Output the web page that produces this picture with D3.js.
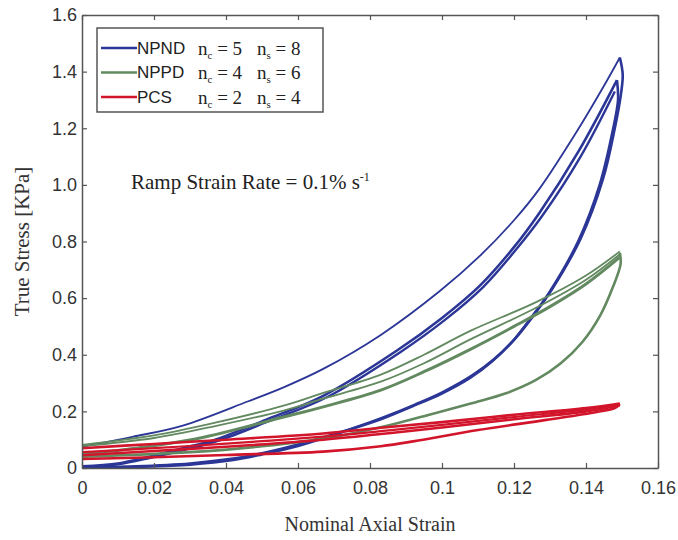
<!DOCTYPE html>
<html>
<head>
<meta charset="utf-8">
<script src="https://cdn.jsdelivr.net/npm/d3@7"></script>
<style>
  body { margin: 0; background: #fff; }
  svg { display: block; }
</style>
</head>
<body>
<script>
const width = 678, height = 540;
const margin = { top: 15, right: 20, bottom: 72, left: 82 };

// [strain, stress] points, one array per branch
const npndLoad1 = [[0, 0.075], [0.014, 0.11], [0.028, 0.15], [0.046, 0.235], [0.056, 0.285], [0.067, 0.35],
  [0.083, 0.47], [0.0994, 0.625], [0.1106, 0.75], [0.12, 0.875], [0.127, 0.985], [0.138, 1.2], [0.145, 1.35], [0.1494, 1.45]];
const npndUnload1 = [[0.1494, 1.45], [0.1502, 1.39], [0.1497, 1.32], [0.148, 1.2], [0.1447, 1.02], [0.1385, 0.81],
  [0.1305, 0.63], [0.1258, 0.545], [0.1205, 0.46], [0.1145, 0.385], [0.1085, 0.328], [0.1005, 0.27], [0.0925, 0.224],
  [0.0835, 0.178], [0.072, 0.127], [0.06, 0.083], [0.05, 0.052], [0.042, 0.033], [0.03, 0.016], [0.015, 0.006], [0, 0.002]];
const npndLoad2 = [[0, 0.006], [0.01, 0.016], [0.0186, 0.04], [0.028, 0.07], [0.037, 0.1], [0.051, 0.17],
  [0.067, 0.255], [0.0875, 0.415], [0.1, 0.53], [0.1106, 0.645], [0.12, 0.78], [0.127, 0.9], [0.138, 1.12], [0.1486, 1.37]];
const npndUnload2 = [[0.1486, 1.37], [0.1489, 1.3], [0.1474, 1.19], [0.1438, 1.0], [0.1378, 0.8], [0.1298, 0.62],
  [0.125, 0.535], [0.1198, 0.45], [0.1138, 0.375], [0.1078, 0.318], [0.0998, 0.262], [0.0918, 0.218],
  [0.083, 0.172], [0.071, 0.122], [0.06, 0.078], [0.05, 0.048], [0.042, 0.028], [0.03, 0.012], [0.015, 0.004], [0, 0]];
const npndLoad3 = [[0, 0.004], [0.01, 0.013], [0.019, 0.036], [0.029, 0.066], [0.038, 0.097], [0.052, 0.166],
  [0.068, 0.25], [0.0885, 0.41], [0.101, 0.525], [0.1115, 0.64], [0.1208, 0.775], [0.1278, 0.89], [0.1385, 1.1], [0.148, 1.33]];

const nppdLoad1 = [[0, 0.082], [0.02, 0.115], [0.037, 0.16], [0.056, 0.22], [0.067, 0.265], [0.083, 0.33],
  [0.095, 0.4], [0.108, 0.485], [0.126, 0.585], [0.14, 0.68], [0.1494, 0.765]];
const nppdLoad2 = [[0, 0.077], [0.02, 0.106], [0.037, 0.148], [0.056, 0.203], [0.067, 0.245], [0.083, 0.305],
  [0.095, 0.37], [0.108, 0.455], [0.126, 0.565], [0.14, 0.665], [0.1494, 0.755]];
const nppdLoad3 = [[0, 0.05], [0.015, 0.07], [0.0325, 0.105], [0.056, 0.18], [0.067, 0.216], [0.083, 0.275],
  [0.095, 0.34], [0.108, 0.42], [0.12, 0.5], [0.13, 0.57], [0.14, 0.65], [0.1494, 0.745]];
const nppdUnload = [[0.1494, 0.76], [0.1496, 0.72], [0.1475, 0.64], [0.144, 0.54], [0.139, 0.445], [0.133, 0.37],
  [0.126, 0.31], [0.118, 0.265], [0.108, 0.228], [0.097, 0.19], [0.0856, 0.152], [0.07, 0.11], [0.05, 0.077],
  [0.03, 0.056], [0, 0.04]];

const pcsLoad1 = [[0, 0.07], [0.02, 0.085], [0.04, 0.1], [0.067, 0.122], [0.083, 0.142], [0.1, 0.162],
  [0.12, 0.188], [0.14, 0.212], [0.1494, 0.228]];
const pcsLoad2 = [[0, 0.056], [0.02, 0.07], [0.04, 0.086], [0.067, 0.111], [0.083, 0.13], [0.1, 0.152],
  [0.12, 0.18], [0.14, 0.207], [0.1494, 0.226]];
const pcsLoad3 = [[0, 0.045], [0.02, 0.06], [0.04, 0.075], [0.067, 0.1], [0.083, 0.12], [0.1, 0.143],
  [0.12, 0.172], [0.14, 0.2], [0.1494, 0.222]];
const pcsUnload = [[0.1494, 0.226], [0.148, 0.212], [0.143, 0.198], [0.129, 0.17], [0.11, 0.134], [0.092, 0.094],
  [0.083, 0.077], [0.067, 0.058], [0.04, 0.046], [0.02, 0.038], [0, 0.032]];

const seriesNames = ["NPND", "NPPD", "PCS"];
const seriesColors = ["#2b3696", "#62895f", "#d2152b"];
const nc = [5, 4, 2];
const ns = [8, 6, 4];

const xTicks = [0, 0.02, 0.04, 0.06, 0.08, 0.1, 0.12, 0.14, 0.16];
const yTicks = [0, 0.2, 0.4, 0.6, 0.8, 1.0, 1.2, 1.4, 1.6];

// branches: [series index, points, stroke width]
const branches = [
  [0, npndLoad1, 1.8], [0, npndLoad3, 2.4], [0, npndLoad2, 2.6], [0, npndUnload1, 2.6], [0, npndUnload2, 2.6],
  [1, nppdLoad1, 1.8], [1, nppdLoad2, 1.8], [1, nppdLoad3, 3], [1, nppdUnload, 2.6],
  [2, pcsLoad1, 2.6], [2, pcsLoad2, 2.2], [2, pcsLoad3, 2.6], [2, pcsUnload, 2.6]
];

const x = d3.scaleLinear().domain([0, 0.16]).range([margin.left, width - margin.right]);
const y = d3.scaleLinear().domain([0, 1.6]).range([height - margin.bottom, margin.top]);

const svg = d3.select("body").append("svg")
    .attr("width", width)
    .attr("height", height);

svg.append("clipPath").attr("id", "clip")
  .append("rect")
    .attr("x", margin.left).attr("y", margin.top)
    .attr("width", x(0.16) - x(0)).attr("height", y(0) - y(1.6));

const line = d3.line()
    .x(d => x(d[0]))
    .y(d => y(d[1]))
    .curve(d3.curveCatmullRom.alpha(0.5));

svg.append("g")
    .attr("clip-path", "url(#clip)")
  .selectAll("path")
  .data(branches)
  .enter().append("path")
    .attr("d", d => line(d[1]))
    .attr("fill", "none")
    .attr("stroke", d => seriesColors[d[0]])
    .attr("stroke-width", d => d[2])
    .attr("stroke-linejoin", "round");

// axes, MATLAB style box with inward ticks
const axisColor = "#555";
const yFmt = d => d === 0 ? "0" : d.toFixed(1);
const xFmt = d => d === 0 ? "0" : String(+d.toFixed(2));

const axes = [
  d3.axisBottom(x).tickValues(xTicks).tickFormat(xFmt).tickSizeInner(-5).tickSizeOuter(0).tickPadding(13),
  d3.axisTop(x).tickValues(xTicks).tickFormat("").tickSizeInner(-5).tickSizeOuter(0),
  d3.axisLeft(y).tickValues(yTicks).tickFormat(yFmt).tickSizeInner(-5).tickSizeOuter(0).tickPadding(5),
  d3.axisRight(y).tickValues(yTicks).tickFormat("").tickSizeInner(-5).tickSizeOuter(0)
];
const axisPos = [
  `translate(0,${y(0)})`, `translate(0,${y(1.6)})`, `translate(${x(0)},0)`, `translate(${x(0.16)},0)`
];
axes.forEach((ax, i) => {
  const g = svg.append("g").attr("transform", axisPos[i]).call(ax);
  g.select(".domain").attr("stroke", axisColor).attr("stroke-width", 1.5);
  g.selectAll(".tick line").attr("stroke", axisColor).attr("stroke-width", 1.2);
  g.selectAll(".tick text")
      .attr("font-family", "Liberation Sans, Arial, sans-serif")
      .attr("font-size", 18)
      .attr("fill", "#333");
});

// axis titles
svg.append("text")
    .attr("x", (x(0) + x(0.16)) / 2)
    .attr("y", 531)
    .attr("text-anchor", "middle")
    .attr("font-family", "Liberation Serif, Times New Roman, serif")
    .attr("font-size", 20)
    .attr("fill", "#333")
    .text("Nominal Axial Strain");

svg.append("text")
    .attr("transform", `translate(29,${(y(0) + y(1.6)) / 2}) rotate(-90)`)
    .attr("text-anchor", "middle")
    .attr("font-family", "Liberation Serif, Times New Roman, serif")
    .attr("font-size", 21)
    .attr("fill", "#333")
    .text("True Stress [KPa]");

// annotation
const note = svg.append("text")
    .attr("x", 131)
    .attr("y", 189)
    .attr("font-family", "Liberation Serif, Times New Roman, serif")
    .attr("font-size", 21)
    .attr("fill", "#222");
note.append("tspan").text("Ramp Strain Rate = 0.1% s");
note.append("tspan").attr("dy", -8).attr("font-size", 12).text("-1");

// legend
const legend = svg.append("g").attr("transform", "translate(97,28)");
legend.append("rect")
    .attr("width", 226)
    .attr("height", 84)
    .attr("fill", "#fff")
    .attr("stroke", axisColor)
    .attr("stroke-width", 1.5);

const rows = legend.selectAll("g.row")
  .data(seriesNames)
  .enter().append("g")
    .attr("class", "row")
    .attr("transform", (d, i) => `translate(0,${20 + i * 24.5})`);

rows.append("line")
    .attr("x1", 4).attr("x2", 40)
    .attr("stroke", (d, i) => seriesColors[i])
    .attr("stroke-width", 2.5);

rows.append("text")
    .attr("x", 40)
    .attr("dy", "0.35em")
    .attr("font-family", "Liberation Sans, Arial, sans-serif")
    .attr("font-size", 17)
    .attr("fill", "#222")
    .text(d => d);

const sub = (sel, xPos, letter, vals) => {
  const t = sel.append("text")
      .attr("x", xPos)
      .attr("dy", "0.35em")
      .attr("font-family", "Liberation Serif, Times New Roman, serif")
      .attr("font-size", 19)
      .attr("fill", "#222");
  t.append("tspan").text("n");
  t.append("tspan").attr("dy", 4).attr("font-size", 11).text(letter);
  t.append("tspan").attr("dy", -4).text((d, i) => " = " + vals[i]);
};
sub(rows, 101, "c", nc);
sub(rows, 160, "s", ns);
</script>
</body>
</html>
